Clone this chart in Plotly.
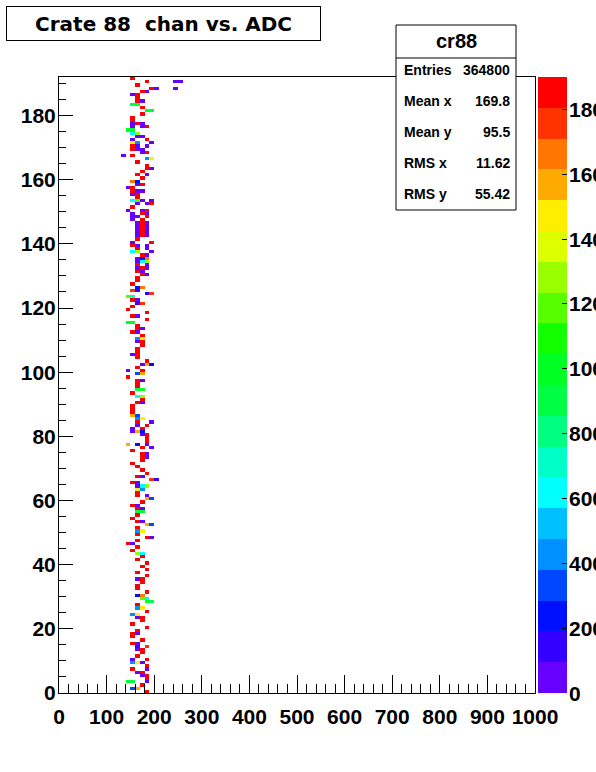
import numpy as np
import plotly.graph_objects as go

# ---------------- data ----------------
# channel (y bin), ADC bin lower edge (x), counts
chan = [191, 190,190,190, 189, 188,188,188, 187,187, 186,186, 185, 184,184, 183,183, 182,
        181,181, 180, 179, 178, 177,177,177, 176,176,176, 175,175, 174,174, 173,173, 172,172,
        171,171,171, 170,170,170, 169,169,169, 168,168, 167,167, 166,166, 165, 164, 163,163, 162,
        161,161, 160, 159,159, 158,158, 157,157, 156,156,156, 155,155, 154, 153,153,153,153, 152,152,152,
        151, 150,150,150, 149,149,149, 148,148,148, 147,147, 146,146,146, 145,145,145, 144,144,144, 143,143,143, 142,142,142,
        141, 140,140, 139,139,139, 138,138, 137,137,137, 136,136, 135,135,135, 134,134,134, 133,133, 132,132,132,
        131,131, 130,130, 129, 128, 127, 126,126, 125,125, 124,124, 123,123, 122,122,
        121,121, 120, 119, 118, 117,117, 116, 115,115, 114, 113,113, 112,112,
        111, 110,110, 109,109, 108, 107, 106, 105,105, 104, 103, 102,102,102,
        101, 100,100, 99,99, 98, 97,97, 96, 95, 94,94, 93, 92,92,
        91, 90,90, 89, 88, 87, 86,86, 85,85, 84,84, 83,83, 82,82,
        81,81,81, 80,80, 79, 78, 77,77,77, 76,76, 75, 74,74, 73,73, 72,
        71, 70, 69, 68, 67,67, 66,66, 65,65, 64,64,64, 63,63, 62,
        61,61, 60,60, 59, 58,58, 57,57, 56,56, 55, 54, 53,53, 52,52,
        51, 50,50, 49, 48,48, 47, 46,46, 45, 44, 43,43, 42,
        41, 40, 39, 38, 37, 36, 35,35, 34, 33, 32,
        31, 30,30, 29,29, 28,28, 27, 26,26, 25, 24,24, 23,23, 22,
        21, 20, 19, 18,18, 17, 16, 15,15, 14,14, 13,13, 12,
        11, 10,10, 9,9,9, 8, 7,7, 6,6, 5,5, 4, 3,3,3, 2, 1,1, 0]
adc = [150, 180,240,250, 160, 190,200,240, 170,180, 150,160, 160, 160,170, 150,160, 170,
       180,190, 170, 150, 150, 150,160,170, 150,170,180, 140,150, 150,160, 160,170, 150,180,
       150,160,190, 150,160,180, 150,160,170, 170,180, 130,150, 180,190, 160, 180, 180,190, 170,
       160,180, 170, 150,160, 160,170, 140,150, 150,160,170, 150,160, 160, 150,160,170,190, 160,180,190,
       150, 140,170,180, 150,170,180, 150,160,180, 150,170, 160,170,180, 160,170,180, 160,170,180, 160,170,180, 160,170,180,
       160, 150,190, 150,160,180, 160,180, 150,160,190, 170,180, 160,170,180, 160,170,180, 160,180, 160,170,180,
       160,170, 170,180, 160, 160, 150, 160,170, 150,160, 180,190, 140,150, 150,160,
       160,170, 150, 140, 180, 150,160, 180, 140,150, 160, 160,170, 150,160,
       170, 160,170, 160,170, 170, 160, 160, 150,160, 160, 180, 170,180,190,
       160, 140,170, 160,170, 140, 160,170, 160, 160, 160,170, 150, 160,170,
       170, 160,170, 150, 150, 150, 150,160, 160,170, 160,190, 160,180, 150,170,
       150,160,170, 170,180, 180, 180, 140,160,180, 170,190, 150, 170,180, 170,180, 170,
       150, 160, 170, 180, 160,170, 190,200, 150,160, 160,170,180, 160,170, 160,
       160,180, 180,190, 170, 150,160, 160,170, 160,170, 160, 150, 160,170, 180,190,
       160, 160,170, 160, 180,190, 160, 140,150, 160, 150, 160,170, 170,
       160, 180, 170, 180, 160, 180, 160,170, 170, 160, 160,
       180, 160,170, 170,180, 180,190, 160, 160,170, 180, 150,160, 160,170, 170,
       150, 180, 160, 150,160, 150, 170, 150,160, 160,180, 160,170, 170,
       160, 150,180, 150,160,170, 180, 150,180, 160,170, 170,180, 180, 140,150,180, 170, 150,160, 180]
counts = [1880, 1830,35,35, 1880, 1820,40,40, 1850,50, 45,1855, 1880, 1850,50, 940,960, 1880,
          960,940, 1880, 1880, 1880, 40,1820,40, 40,40,1820, 950,950, 620,1280, 50,50, 40,1840,
          1460,400,40, 1820,40,40, 1820,40,40, 50,1850, 50,1850, 440,1460, 1880, 1880, 1850,50, 1880,
          1850,50, 1880, 1650,250, 50,1850, 50,1850, 1820,40,40, 50,1850, 1880, 620,1200,40,40, 40,40,1820,
          1880, 40,40,1820, 40,1820,40, 40,40,1820, 50,1850, 40,1820,40, 35,1830,35, 45,1810,45, 40,1820,40, 30,1840,30,
          1880, 50,1850, 1820,40,40, 1850,50, 620,1240,40, 1850,50, 40,220,1640, 40,620,1240, 1820,80, 40,1820,40,
          1850,50, 1850,50, 1880, 1880, 1880, 250,1650, 1780,120, 120,1780, 1150,720, 1850,50,
          120,1780, 1880, 1880, 1880, 1850,50, 1880, 950,950, 1880, 1850,50, 1850,50,
          1880, 440,1460, 50,1850, 1880, 1880, 1880, 50,1850, 1880, 1880, 50,1600,250,
          1880, 50,1850, 330,1570, 1880, 1850,50, 1880, 1880, 940,960, 1880, 620,1280,
          1880, 1850,50, 1880, 1880, 1880, 1600,300, 440,1460, 1850,50, 50,1850, 50,1850,
          50,1600,250, 50,1850, 1880, 1880, 1600,250,50, 1850,50, 1880, 1850,50, 1850,50, 1880,
          1880, 1880, 1880, 1880, 1850,50, 1780,120, 1850,50, 40,620,1240, 1460,440, 1880,
          1850,50, 1570,330, 1880, 1850,50, 1850,50, 940,960, 1880, 1880, 1850,50, 1570,330,
          1880, 440,1460, 1880, 1850,50, 1880, 1850,50, 1880, 1880, 1280,620, 1880,
          1880, 1880, 1880, 1880, 1880, 1880, 50,1850, 1880, 1880, 1880,
          1880, 250,1650, 1150,750, 980,920, 1880, 440,1460, 1880, 440,1460, 50,1850, 1880,
          1880, 1880, 1880, 1850,50, 1880, 1880, 1850,50, 120,1780, 50,1850, 1880,
          1880, 50,1850, 420,1440,40, 1880, 1850,50, 50,1850, 50,1850, 1880, 950,900,50, 1880, 330,1570, 1880]

n_chan = 192
n_adc_bins = 100
adc_bin_width = 10
z_max = 1900
z_ticks = list(range(0, 1801, 200))

band_colors = ["#6600FF", "#3300FF", "#0010FF", "#0048FF", "#0090FF",
               "#00C0FF", "#00FFFF", "#00FFC8", "#00FF80", "#00FF44",
               "#00FF22", "#11FF00", "#55FF00", "#99FF00", "#DDFF00",
               "#FFEE00", "#FFAA00", "#FF7700", "#FF3300", "#FF0000"]

stats_labels = ["Entries", "Mean x", "Mean y", "RMS x", "RMS y"]
stats_values = ["364800", "169.8", "95.5", "11.62", "55.42"]

assert len(chan) == len(adc) == len(counts), (len(chan), len(adc), len(counts))

# ---------------- build histogram ----------------
z = np.full((n_chan, n_adc_bins), np.nan)
for c, a, v in zip(chan, adc, counts):
    z[c, a // adc_bin_width] = v
x_centers = np.arange(n_adc_bins) * adc_bin_width + adc_bin_width / 2
y_centers = np.arange(n_chan) + 0.5

nb = len(band_colors)
colorscale = []
for i, col in enumerate(band_colors):
    colorscale.append([i / nb, col])
    colorscale.append([(i + 1) / nb, col])

# ---------------- layout geometry (pixels) ----------------
W, H = 596, 772
L, R, T, B = 59, 535, 77, 693


def px(x):
    return (x - L) / (R - L)


def py(y):
    return (B - y) / (B - T)


FONT = "Liberation Sans"

fig = go.Figure()
fig.add_trace(go.Heatmap(
    x=x_centers, y=y_centers, z=z,
    zmin=0, zmax=z_max, colorscale=colorscale, zsmooth=False,
    hoverongaps=False,
    colorbar=dict(
        x=px(538), xanchor="left", xpad=0, ypad=0,
        y=0, yanchor="bottom", len=B - T, lenmode="pixels",
        thickness=29, thicknessmode="pixels", outlinewidth=0,
        tickmode="array", tickvals=z_ticks, showticklabels=False,
        ticks="inside", ticklen=5, tickcolor="black", tickwidth=1,
    ),
))

fig.update_layout(
    width=W, height=H,
    margin=dict(l=L, r=W - R, t=T, b=H - B, autoexpand=False),
    paper_bgcolor="white", plot_bgcolor="white",
    showlegend=False,
    xaxis=dict(
        range=[0, 1000], showgrid=False, zeroline=False,
        showline=True, linecolor="black", linewidth=1, mirror=True,
        tickmode="array", tickvals=list(range(0, 1001, 100)),
        ticks="inside", ticklen=18, tickcolor="black", tickwidth=1,
        ticklabelstandoff=5,
        minor=dict(dtick=20, tick0=0, ticks="inside", ticklen=9, tickcolor="black", showgrid=False),
        tickfont=dict(family=FONT, size=21, color="black", weight="bold"),
    ),
    yaxis=dict(
        range=[0, 192], showgrid=False, zeroline=False,
        showline=True, linecolor="black", linewidth=1, mirror=True,
        tickmode="array", tickvals=list(range(0, 181, 20)),
        ticks="inside", ticklen=14, tickcolor="black", tickwidth=1,
        ticklabelstandoff=-2,
        minor=dict(dtick=5, tick0=0, ticks="inside", ticklen=7, tickcolor="black", showgrid=False),
        tickfont=dict(family=FONT, size=21, color="black", weight="bold"),
    ),
)

shapes = []
annotations = []

# Colour-bar labels (clipped at the right edge, as in the original canvas)
for v in z_ticks:
    annotations.append(dict(
        xref="paper", yref="paper", x=px(568), y=py(B - v * (B - T) / z_max),
        xanchor="left", yanchor="middle", showarrow=False, text=str(v),
        borderpad=0,
        font=dict(family=FONT, size=21, color="black", weight="bold"),
    ))

# Title box
annotations.append(dict(
    xref="paper", yref="paper", x=px(163.5), y=py(23.5),
    xanchor="center", yanchor="middle", showarrow=False,
    text="Crate 88\u00a0 chan vs. ADC", width=313, height=33,
    bordercolor="black", borderwidth=1, borderpad=0, bgcolor="white",
    font=dict(family="DejaVu Sans", size=20, color="black", weight="bold"),
))

# Stats box
shapes.append(dict(type="rect", xref="paper", yref="paper", layer="above",
                   x0=px(396), x1=px(516), y0=py(210), y1=py(25),
                   line=dict(color="black", width=1), fillcolor="white"))
shapes.append(dict(type="line", xref="paper", yref="paper", layer="above",
                   x0=px(396), x1=px(516), y0=py(58), y1=py(58),
                   line=dict(color="black", width=1)))
annotations.append(dict(
    xref="paper", yref="paper", x=px(456), y=py(41),
    xanchor="center", yanchor="middle", showarrow=False, text="cr88",
    font=dict(family=FONT, size=20, color="black", weight="bold"),
))
row_y = [70, 101, 132, 163, 194]
for lab, val, yy in zip(stats_labels, stats_values, row_y):
    annotations.append(dict(
        xref="paper", yref="paper", x=px(402), y=py(yy),
        xanchor="left", yanchor="middle", showarrow=False, text=lab,
        font=dict(family=FONT, size=14, color="black", weight="bold"),
    ))
    annotations.append(dict(
        xref="paper", yref="paper", x=px(512), y=py(yy),
        xanchor="right", yanchor="middle", showarrow=False, text=val,
        font=dict(family=FONT, size=14, color="black", weight="bold"),
    ))

fig.update_layout(shapes=shapes, annotations=annotations)

fig.write_html("out.html", config={"displayModeBar": False},
               post_script="document.body.style.margin='0px'; document.body.style.overflow='hidden';")
